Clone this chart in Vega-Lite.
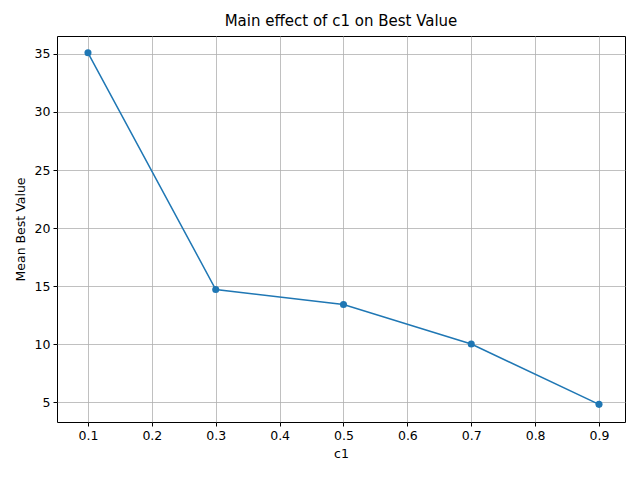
{
"$schema":"https://vega.github.io/schema/vega-lite/v6.json",
"width":568,"height":386,
"autosize":{"type":"none"},
"padding":{"left":57,"top":36,"right":15,"bottom":58},
"background":"white",
"config":{"font":"DejaVu Sans","view":{"stroke":"black","strokeWidth":1},
"axis":{"gridColor":"#b0b0b0","gridWidth":0.8,"domain":false,"tickColor":"black","labelColor":"black","labelFontSize":12.5,"titleFontSize":12.5,"titleFontWeight":"normal","titleColor":"black","labelFont":"DejaVu Sans","titleFont":"DejaVu Sans","tickSize":4,"labelPadding":3}},
"title":{"text":"Main effect of c1 on Best Value","fontSize":15,"fontWeight":"normal","font":"DejaVu Sans","offset":7},
"data":{"values":[
{"c1":0.1,"v":35.1},{"c1":0.3,"v":14.7},{"c1":0.5,"v":13.4},{"c1":0.7,"v":10.0},{"c1":0.9,"v":4.8}]},
"mark":{"type":"line","color":"#1f77b4","strokeWidth":1.5,"point":{"filled":true,"size":50,"color":"#1f77b4","opacity":1}},
"encoding":{
"x":{"field":"c1","type":"quantitative","title":"c1","scale":{"domain":[0.0515,0.9407],"nice":false,"zero":false},"axis":{"values":[0.1,0.2,0.3,0.4,0.5,0.6,0.7,0.8,0.9],"format":".1f","titlePadding":6}},
"y":{"field":"v","type":"quantitative","title":"Mean Best Value","scale":{"domain":[3.28,36.55],"nice":false,"zero":false},"axis":{"values":[5,10,15,20,25,30,35],"titlePadding":7}}
}
}
